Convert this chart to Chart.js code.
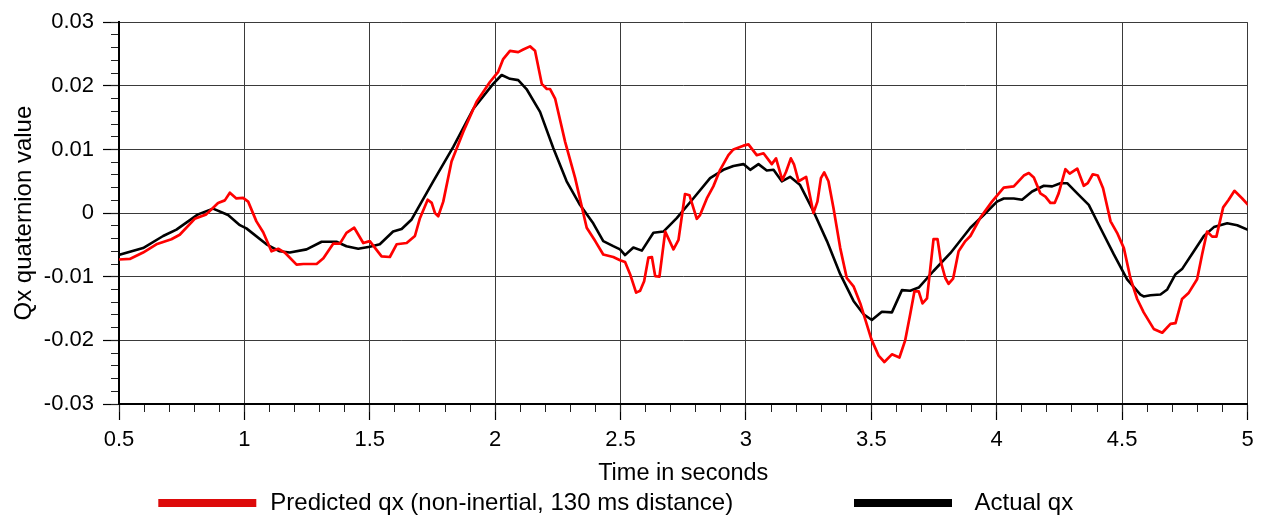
<!DOCTYPE html>
<html>
<head>
<meta charset="utf-8">
<script src="https://cdn.jsdelivr.net/npm/chart.js@4.4.0/dist/chart.umd.min.js"></script>
<style>
  html, body { margin: 0; padding: 0; background: #fff; }
  #wrap { width: 1267px; height: 516px; }
</style>
</head>
<body>
<div id="wrap"><canvas id="chart" width="1267" height="516"></canvas></div>
<script>
// axis ticks
const xTicks = [0.5, 1, 1.5, 2, 2.5, 3, 3.5, 4, 4.5, 5];
const xTickLabels = ['0.5', '1', '1.5', '2', '2.5', '3', '3.5', '4', '4.5', '5'];
const yTicks = [-0.03, -0.02, -0.01, 0, 0.01, 0.02, 0.03];
const yTickLabels = ['-0.03', '-0.02', '-0.01', '0', '0.01', '0.02', '0.03'];

// predicted qx (non-inertial, 130 ms look-ahead)
const predTime = [
  0.496, 0.543, 0.596, 0.649, 0.709, 0.742, 0.802, 0.848, 0.895, 0.922, 0.942, 0.968, 0.995,
  1.015, 1.048, 1.075, 1.108, 1.135, 1.161, 1.208, 1.235, 1.288, 1.315, 1.354, 1.381, 1.407,
  1.438, 1.474, 1.5, 1.547, 1.58, 1.607, 1.647, 1.68, 1.7, 1.731, 1.747, 1.76, 1.773, 1.793,
  1.826, 1.873, 1.926, 1.979, 2.012, 2.032, 2.059, 2.092, 2.112, 2.139, 2.159, 2.186, 2.206,
  2.219, 2.239, 2.279, 2.319, 2.365, 2.399, 2.431, 2.471, 2.498, 2.518, 2.538, 2.562, 2.578,
  2.594, 2.611, 2.625, 2.638, 2.655, 2.678, 2.711, 2.731, 2.757, 2.775, 2.804, 2.817, 2.844,
  2.87, 2.897, 2.93, 2.95, 2.99, 3.01, 3.043, 3.07, 3.103, 3.12, 3.145, 3.16, 3.179, 3.192,
  3.21, 3.24, 3.269, 3.285, 3.299, 3.312, 3.329, 3.349, 3.376, 3.402, 3.429, 3.456, 3.5,
  3.529, 3.552, 3.582, 3.612, 3.635, 3.655, 3.672, 3.689, 3.704, 3.722, 3.748, 3.764, 3.778,
  3.795, 3.808, 3.826, 3.848, 3.875, 3.895, 3.935, 3.981, 4.028, 4.068, 4.108, 4.128, 4.148,
  4.174, 4.194, 4.214, 4.231, 4.247, 4.274, 4.291, 4.321, 4.347, 4.363, 4.383, 4.403, 4.424,
  4.454, 4.48, 4.507, 4.533, 4.56, 4.586, 4.626, 4.66, 4.693, 4.713, 4.739, 4.766, 4.799,
  4.819, 4.839, 4.859, 4.876, 4.903, 4.925, 4.948, 4.979, 5.012
];
const predQx = [
  -0.0073, -0.0072, -0.0062, -0.0049, -0.0041, -0.0034, -0.0009, -0.0002, 0.0016, 0.002, 0.0032, 0.0023, 0.0024,
  0.0018, -0.0013, -0.003, -0.006, -0.0056, -0.0062, -0.0081, -0.008, -0.008, -0.0071, -0.0048, -0.0048, -0.0031,
  -0.0023, -0.0047, -0.0044, -0.0068, -0.0069, -0.0049, -0.0047, -0.0036, -0.0008, 0.0021, 0.0016, 0, -0.0005, 0.0018,
  0.0081, 0.0128, 0.0175, 0.0206, 0.0222, 0.0242, 0.0255, 0.0253, 0.0257, 0.0262, 0.0255, 0.0203, 0.0195,
  0.0195, 0.018, 0.0112, 0.0055, -0.0023, -0.0044, -0.0065, -0.0069, -0.0074, -0.0077, -0.0096, -0.0125, -0.0122,
  -0.0107, -0.007, -0.0069, -0.0099, -0.01, -0.0029, -0.0057, -0.0042, 0.003, 0.0028, -0.0009, -0.0003, 0.0023,
  0.0042, 0.0068, 0.0091, 0.01, 0.0106, 0.0108, 0.0091, 0.0094, 0.0077, 0.0086, 0.0052, 0.0065, 0.0086, 0.0076,
  0.005, 0.0057, 0, 0.0018, 0.0055, 0.0064, 0.005, 0.0008, -0.0055, -0.0102, -0.0115, -0.0142, -0.0198,
  -0.0224, -0.0234, -0.0222, -0.0227, -0.02, -0.0159, -0.0123, -0.0123, -0.0142, -0.0134, -0.0041, -0.0041, -0.0078,
  -0.0102, -0.0111, -0.0103, -0.006, -0.0044, -0.0036, -0.0007, 0.0018, 0.004, 0.0042, 0.0059, 0.0063, 0.0056,
  0.0031, 0.0026, 0.0016, 0.0016, 0.0031, 0.0069, 0.0062, 0.007, 0.0043, 0.0047, 0.0061, 0.0059, 0.0039,
  -0.0013, -0.0031, -0.0055, -0.0102, -0.0135, -0.0156, -0.0182, -0.0188, -0.0174, -0.0173, -0.0135, -0.0125, -0.0104,
  -0.0065, -0.0029, -0.0037, -0.0037, 0.0009, 0.0021, 0.0035, 0.0023, 0.0009
];

// measured qx
const actTime = [
  0.496, 0.596, 0.676, 0.729, 0.815, 0.875, 0.935, 0.982, 1.008, 1.088, 1.141, 1.181, 1.248,
  1.308, 1.367, 1.407, 1.454, 1.5, 1.54, 1.593, 1.627, 1.667, 1.753, 1.833, 1.913, 1.992,
  2.026, 2.059, 2.092, 2.125, 2.179, 2.232, 2.285, 2.338, 2.391, 2.431, 2.471, 2.498, 2.518,
  2.551, 2.585, 2.631, 2.671, 2.724, 2.79, 2.857, 2.91, 2.95, 2.99, 3.017, 3.05, 3.083,
  3.11, 3.143, 3.176, 3.216, 3.269, 3.323, 3.376, 3.429, 3.469, 3.502, 3.542, 3.582, 3.622,
  3.655, 3.689, 3.748, 3.815, 3.895, 3.948, 4.001, 4.028, 4.068, 4.101, 4.141, 4.188, 4.221,
  4.254, 4.281, 4.321, 4.367, 4.413, 4.467, 4.52, 4.573, 4.586, 4.613, 4.653, 4.68, 4.713,
  4.739, 4.786, 4.826, 4.866, 4.919, 4.959, 5.012
];
const actQx = [
  -0.0066, -0.0055, -0.0036, -0.0026, -0.0002, 0.0007, -0.0003, -0.0019, -0.0024, -0.0049, -0.006, -0.0062, -0.0057,
  -0.0045, -0.0045, -0.0052, -0.0056, -0.0053, -0.0049, -0.0029, -0.0025, -0.001, 0.005, 0.0104, 0.0164, 0.0203,
  0.0217, 0.0211, 0.0209, 0.0195, 0.0159, 0.0102, 0.005, 0.0013, -0.0016, -0.0044, -0.0052, -0.0057, -0.0066,
  -0.0054, -0.0059, -0.0031, -0.0029, -0.0008, 0.0023, 0.0055, 0.0068, 0.0074, 0.0077, 0.0068, 0.0077, 0.0067,
  0.0068, 0.005, 0.0057, 0.0044, 0.0003, -0.0044, -0.0096, -0.0138, -0.0159, -0.0168, -0.0155, -0.0156, -0.0121,
  -0.0122, -0.0117, -0.0091, -0.0063, -0.0023, -0.0003, 0.0018, 0.0023, 0.0023, 0.0021, 0.0034, 0.0043, 0.0042,
  0.0047, 0.0047, 0.0031, 0.0013, -0.0023, -0.0065, -0.0104, -0.0128, -0.0131, -0.0129, -0.0128, -0.012, -0.0096,
  -0.0088, -0.006, -0.0036, -0.0022, -0.0016, -0.0019, -0.0028
];

const toPoints = (xs, ys) => xs.map((x, i) => ({ x: x, y: ys[i] }));

Chart.defaults.font.family = "'Liberation Sans', Arial, Helvetica, sans-serif";
Chart.defaults.color = '#000';

// swatches + labels underneath the x axis title
const bottomLegend = {
  id: 'bottomLegend',
  afterDraw(chart, args, opts) {
    const ctx = chart.ctx;
    ctx.save();
    ctx.font = opts.fontSize + 'px ' + Chart.defaults.font.family;
    ctx.textBaseline = 'alphabetic';
    ctx.textAlign = 'left';
    chart.data.datasets.forEach((ds, i) => {
      const x = opts.boxX[i];
      ctx.fillStyle = opts.boxColors[i];
      ctx.fillRect(x, opts.boxY, opts.boxWidth, opts.boxHeight);
      ctx.fillStyle = '#000';
      ctx.fillText(ds.label, x + opts.boxWidth + opts.textGap[i], opts.baseline);
    });
    ctx.restore();
  }
};

const gridColor = '#3a3a3a';

new Chart(document.getElementById('chart'), {
  type: 'line',
  plugins: [bottomLegend],
  data: {
    datasets: [
      {
        label: 'Predicted qx (non-inertial, 130 ms distance)',
        data: toPoints(predTime, predQx),
        borderColor: '#ff0000',
        borderWidth: 2.7,
        borderJoinStyle: 'round',
        borderCapStyle: 'round',
        pointRadius: 0,
        tension: 0,
        xAxisID: 'x',
        yAxisID: 'y'
      },
      {
        label: 'Actual qx',
        data: toPoints(actTime, actQx),
        borderColor: '#000000',
        borderWidth: 2.6,
        borderJoinStyle: 'round',
        borderCapStyle: 'round',
        pointRadius: 0,
        tension: 0,
        xAxisID: 'x',
        yAxisID: 'y'
      }
    ]
  },
  options: {
    responsive: false,
    animation: false,
    events: [],
    layout: {
      padding: { left: 0, right: 19.5, top: 20, bottom: 28.2 }
    },
    scales: {
      x: {
        type: 'linear',
        position: 'bottom',
        weight: 1,
        min: 0.5,
        max: 5,
        afterBuildTicks: (scale) => { scale.ticks = xTicks.map((v) => ({ value: v })); },
        afterFit: (scale) => { scale.height = 83.8; },
        ticks: {
          callback: (value, index) => xTickLabels[index],
          autoSkip: false,
          maxRotation: 0,
          padding: 7,
          font: { size: 22 }
        },
        grid: { color: gridColor, lineWidth: 1, tickLength: 16, tickColor: '#000', tickWidth: 1.2 },
        border: { color: '#000', width: 2 },
        title: {
          display: true,
          text: 'Time in seconds',
          font: { size: 23.5 },
          padding: { top: 0, bottom: 0 }
        }
      },
      y: {
        type: 'linear',
        position: 'left',
        weight: 1,
        min: -0.03,
        max: 0.03,
        afterBuildTicks: (scale) => { scale.ticks = yTicks.map((v) => ({ value: v })); },
        afterFit: (scale) => { scale.width = 119; },
        ticks: {
          callback: (value, index) => yTickLabels[index],
          padding: 9,
          font: { size: 22 }
        },
        grid: { color: gridColor, lineWidth: 1, tickLength: 16, tickColor: '#000', tickWidth: 1.2 },
        border: { color: '#000', width: 2 },
        title: {
          display: true,
          text: 'Qx quaternion value',
          font: { size: 24 },
          padding: { top: 10, bottom: 0 }
        }
      },
      // short minor tick marks between the labelled ones
      xMinor: {
        type: 'linear',
        axis: 'x',
        position: 'bottom',
        weight: 0,
        min: 0.5,
        max: 5,
        afterFit: (scale) => { scale.height = 0; },
        ticks: { display: false, stepSize: 0.1 },
        grid: { drawOnChartArea: false, tickLength: 8, tickColor: '#222', tickWidth: 1 },
        border: { display: false }
      },
      yMinor: {
        type: 'linear',
        axis: 'y',
        position: 'left',
        weight: 0,
        min: -0.03,
        max: 0.03,
        afterFit: (scale) => { scale.width = 0; },
        ticks: { display: false, stepSize: 0.002 },
        grid: { drawOnChartArea: false, tickLength: 8, tickColor: '#222', tickWidth: 1 },
        border: { display: false }
      }
    },
    plugins: {
      legend: { display: false },
      tooltip: { enabled: false },
      bottomLegend: {
        fontSize: 24,
        boxX: [158.3, 854],
        boxY: 499,
        boxWidth: 98,
        boxHeight: 8,
        boxColors: ['#dd0a0a', '#000000'],
        textGap: [14, 22.5],
        baseline: 510
      }
    }
  }
});
</script>
</body>
</html>
